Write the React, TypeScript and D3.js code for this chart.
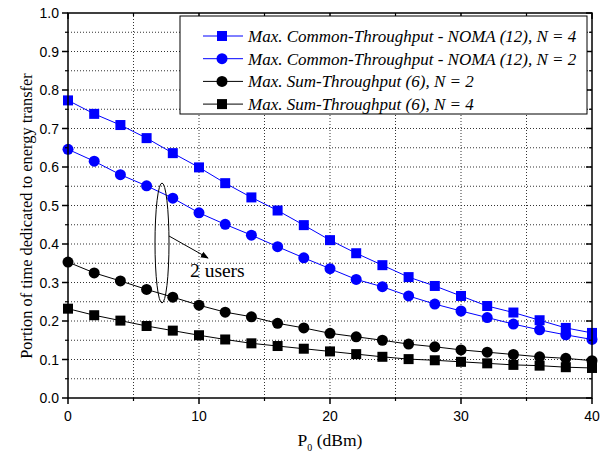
import React from 'react';
import * as d3 from 'd3';

const p0 = [0, 2, 4, 6, 8, 10, 12, 14, 16, 18, 20, 22, 24, 26, 28, 30, 32, 34, 36, 38, 40];

const nomaN4 = [0.773, 0.738, 0.709, 0.675, 0.636, 0.599, 0.558, 0.521, 0.487, 0.449, 0.410, 0.376, 0.345, 0.314, 0.291, 0.265, 0.239, 0.222, 0.202, 0.182, 0.169];
const nomaN2 = [0.646, 0.615, 0.580, 0.551, 0.519, 0.481, 0.451, 0.423, 0.393, 0.364, 0.336, 0.308, 0.289, 0.265, 0.244, 0.226, 0.209, 0.192, 0.177, 0.164, 0.152];
const sumN2 = [0.353, 0.325, 0.304, 0.282, 0.262, 0.241, 0.223, 0.211, 0.194, 0.182, 0.168, 0.159, 0.150, 0.140, 0.133, 0.125, 0.119, 0.113, 0.107, 0.103, 0.097];
const sumN4 = [0.232, 0.215, 0.201, 0.187, 0.175, 0.163, 0.152, 0.142, 0.135, 0.128, 0.121, 0.114, 0.107, 0.101, 0.098, 0.094, 0.090, 0.086, 0.084, 0.080, 0.078];

const xTicks = [0, 10, 20, 30, 40];
const yTicks = [0, 0.1, 0.2, 0.3, 0.4, 0.5, 0.6, 0.7, 0.8, 0.9, 1.0];

const series = [
  { label: 'Max. Common-Throughput - NOMA (12), N = 4', values: nomaN4, color: '#0000ff', marker: 'square' },
  { label: 'Max. Common-Throughput - NOMA (12), N = 2', values: nomaN2, color: '#0000ff', marker: 'circle' },
  { label: 'Max. Sum-Throughput (6), N = 2', values: sumN2, color: '#000000', marker: 'circle' },
  { label: 'Max. Sum-Throughput (6), N = 4', values: sumN4, color: '#000000', marker: 'square' },
];

const W = 600;
const H = 462;
const left = 68;
const right = 592;
const top = 13;
const bottom = 398;

const serif = { fontFamily: "'Liberation Serif', 'Times New Roman', 'DejaVu Serif', serif" };
const sans = { fontFamily: "'Liberation Sans', Arial, sans-serif" };

const x = d3.scaleLinear().domain([0, 40]).range([left, right]);
const y = d3.scaleLinear().domain([0, 1]).range([bottom, top]);

const Marker = ({ cx, cy, kind, color }: { cx: number; cy: number; kind: string; color: string }) =>
  kind === 'square' ? (
    <rect x={cx - 5} y={cy - 5} width={10} height={10} fill={color} />
  ) : (
    <circle cx={cx} cy={cy} r={5.5} fill={color} />
  );

export default function App() {
  const line = d3
    .line<number>()
    .x((_, i) => x(p0[i]))
    .y(d => y(d));

  const xGrid = d3.range(5, 40, 5);
  const yGrid = d3.range(1, 20).map(i => i * 0.05);
  const yMinor = d3.range(0, 10).map(i => i * 0.1 + 0.05);
  const xMinor = d3.range(0, 4).map(i => i * 10 + 5);

  return (
    <svg width={W} height={H} style={{ position: 'absolute', left: 0, top: 0 }}>
      <rect width={W} height={H} fill="#fff" />
      {/* grid */}
      {xGrid.map(v => (
        <line key={'gx' + v} x1={x(v)} x2={x(v)} y1={top} y2={bottom} stroke="#333" strokeWidth={1} strokeDasharray="1,2" />
      ))}
      {yGrid.map(v => (
        <line key={'gy' + v} x1={left} x2={right} y1={y(v)} y2={y(v)} stroke="#333" strokeWidth={1} strokeDasharray="1,2" />
      ))}

      {/* series */}
      {series.map(s => (
        <g key={s.label}>
          <path d={line(s.values) || ''} fill="none" stroke={s.color} strokeWidth={1} />
          {s.values.map((v, i) => (
            <Marker key={i} cx={x(p0[i])} cy={y(v)} kind={s.marker} color={s.color} />
          ))}
        </g>
      ))}

      {/* frame */}
      <rect x={left} y={top} width={right - left} height={bottom - top} fill="none" stroke="#000" strokeWidth={1.5} />

      {/* ticks */}
      {yTicks.map(v => (
        <g key={'yt' + v}>
          <line x1={left - 6} x2={left} y1={y(v)} y2={y(v)} stroke="#000" strokeWidth={1.5} />
          <line x1={right - 6} x2={right} y1={y(v)} y2={y(v)} stroke="#000" strokeWidth={1.5} />
          <text x={left - 9} y={y(v) + 5} textAnchor="end" style={sans} fontSize={14}>
            {v.toFixed(1)}
          </text>
        </g>
      ))}
      {yMinor.map(v => (
        <g key={'ym' + v}>
          <line x1={left - 3} x2={left} y1={y(v)} y2={y(v)} stroke="#000" strokeWidth={1.2} />
          <line x1={right - 3} x2={right} y1={y(v)} y2={y(v)} stroke="#000" strokeWidth={1.2} />
        </g>
      ))}
      {xTicks.map(v => (
        <g key={'xt' + v}>
          <line x1={x(v)} x2={x(v)} y1={bottom} y2={bottom + 6} stroke="#000" strokeWidth={1.5} />
          <line x1={x(v)} x2={x(v)} y1={top} y2={top + 6} stroke="#000" strokeWidth={1.5} />
          <text x={x(v)} y={bottom + 23} textAnchor="middle" style={sans} fontSize={14}>
            {v}
          </text>
        </g>
      ))}
      {xMinor.map(v => (
        <g key={'xm' + v}>
          <line x1={x(v)} x2={x(v)} y1={bottom} y2={bottom + 3} stroke="#000" strokeWidth={1.2} />
          <line x1={x(v)} x2={x(v)} y1={top} y2={top + 3} stroke="#000" strokeWidth={1.2} />
        </g>
      ))}

      {/* axis labels */}
      <text x={(left + right) / 2} y={446} textAnchor="middle" style={serif} fontSize={17.5}>
        P<tspan fontSize={10} dy={5}>0</tspan>
        <tspan dy={-5}> (dBm)</tspan>
      </text>
      <text
        transform={`translate(32, 216) rotate(-90)`}
        textAnchor="middle"
        style={serif}
        fontSize={16.4}
      >
        Portion of time dedicated to energy transfer
      </text>

      {/* legend */}
      <rect x={180} y={16} width={407} height={98} fill="#fff" stroke="#000" strokeWidth={1} />
      {series.map((s, i) => {
        const ly = 36 + i * 22.7;
        return (
          <g key={'lg' + i}>
            <line x1={203} x2={243} y1={ly} y2={ly} stroke={s.color} strokeWidth={1} />
            <Marker cx={222} cy={ly} kind={s.marker} color={s.color} />
            <text x={248} y={ly + 6} style={serif} fontStyle="italic" fontSize={17}>
              {s.label}
            </text>
          </g>
        );
      })}

      {/* annotation */}
      <ellipse cx={162} cy={243} rx={7} ry={60} fill="none" stroke="#000" strokeWidth={1} />
      <defs>
        <marker id="arr" viewBox="0 0 10 10" refX={9} refY={5} markerWidth={8} markerHeight={8} orient="auto">
          <path d="M0,1 L10,5 L0,9 z" fill="#000" />
        </marker>
      </defs>
      <line x1={169} y1={236} x2={208} y2={258} stroke="#000" strokeWidth={1} markerEnd="url(#arr)" />
      <text x={190} y={277} style={serif} fontSize={19.5}>
        2 users
      </text>
    </svg>
  );
}
